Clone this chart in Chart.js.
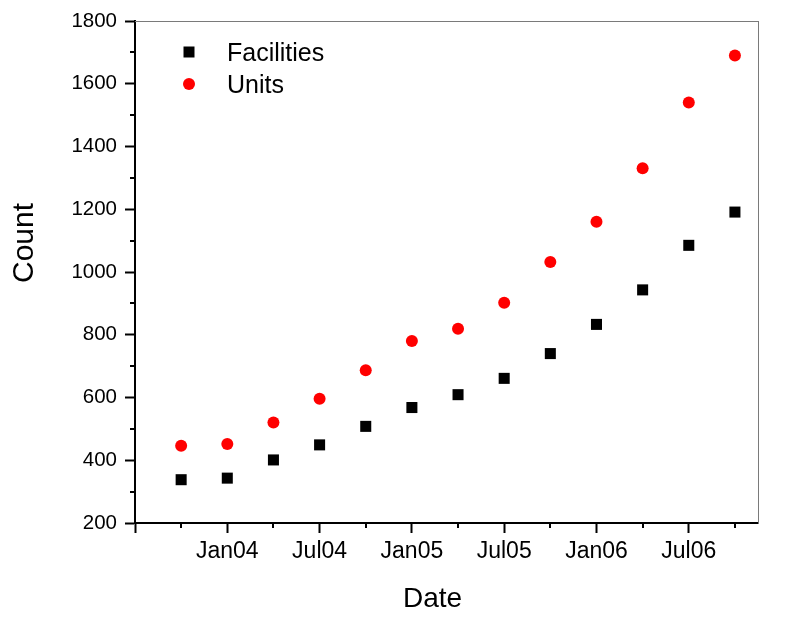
<!DOCTYPE html>
<html>
<head>
<meta charset="utf-8">
<script src="https://cdn.jsdelivr.net/npm/chart.js@4/dist/chart.umd.min.js"></script>
<style>
  html, body { margin: 0; padding: 0; background: #ffffff; }
  #wrap { width: 793px; height: 623px; }
</style>
</head>
<body>
<div id="wrap"><canvas id="c" width="793" height="623"></canvas></div>
<script>
// ---- data ----
const quarters = ['Oct03','Jan04','Apr04','Jul04','Oct04','Jan05','Apr05','Jul05','Oct05','Jan06','Apr06','Jul06','Oct06'];
const quarterPos = [1,2,3,4,5,6,7,8,9,10,11,12,13]; // quarters after Jul03
const facilities = [338, 343, 401, 449, 508, 568, 609, 661, 740, 833, 943, 1085, 1191];
const units = [446, 452, 520, 596, 687, 780, 819, 902, 1032, 1160, 1331, 1540, 1690];
const xTickPos = [0, 2, 4, 6, 8, 10, 12];
const xTickLabels = ['', 'Jan04', 'Jul04', 'Jan05', 'Jul05', 'Jan06', 'Jul06'];
const xMinorPos = [1, 3, 5, 7, 9, 11, 13];
const yMinorVals = [300, 500, 700, 900, 1100, 1300, 1500, 1700];
const seriesNames = ['Facilities', 'Units'];
const xTitle = 'Date';
const yTitle = 'Count';

const FONT = "'Liberation Sans', Arial, sans-serif";

const minorTicks = {
  id: 'minorTicks',
  afterDraw(chart) {
    const ctx = chart.ctx, xs = chart.scales.x, ys = chart.scales.y;
    ctx.save();
    ctx.strokeStyle = '#000';
    ctx.lineWidth = 2;
    ctx.beginPath();
    xMinorPos.forEach(v => {
      const px = Math.round(xs.getPixelForValue(v));
      ctx.moveTo(px, xs.top);
      ctx.lineTo(px, xs.top + 5);
    });
    yMinorVals.forEach(v => {
      const py = Math.round(ys.getPixelForValue(v));
      ctx.moveTo(ys.right - 5, py);
      ctx.lineTo(ys.right, py);
    });
    ctx.stroke();
    ctx.restore();
  }
};

const legendAndTitles = {
  id: 'legendAndTitles',
  afterDraw(chart) {
    const ctx = chart.ctx, a = chart.chartArea;
    ctx.save();
    // legend
    const lx = a.left + 54;
    const rows = [a.top + 31, a.top + 63];
    chart.data.datasets.forEach((ds, i) => {
      const cy = rows[i];
      ctx.fillStyle = ds.backgroundColor;
      ctx.beginPath();
      if (ds.pointStyle === 'rect') {
        ctx.rect(lx - 5.5, cy - 5.5, 11, 11);
      } else {
        ctx.arc(lx, cy, 6, 0, Math.PI * 2);
      }
      ctx.fill();
      ctx.fillStyle = '#000';
      ctx.font = '25px ' + FONT;
      ctx.textAlign = 'left';
      ctx.textBaseline = 'alphabetic';
      ctx.fillText(ds.label, lx + 38, cy + 8.5);
    });
    // axis titles
    ctx.fillStyle = '#000';
    ctx.font = '28px ' + FONT;
    ctx.textAlign = 'center';
    ctx.textBaseline = 'alphabetic';
    ctx.fillText(xTitle, (a.left + a.right) / 2 - 14, 607);
    ctx.save();
    ctx.translate(33, (a.top + a.bottom) / 2 - 29);
    ctx.rotate(-Math.PI / 2);
    ctx.font = '30px ' + FONT;
    ctx.fillText(yTitle, 0, 0);
    ctx.restore();
    ctx.restore();
  }
};

const toPoints = vals => vals.map((v, i) => ({ x: quarterPos[i], y: v }));

new Chart(document.getElementById('c'), {
  type: 'scatter',
  data: {
    datasets: [
      {
        label: seriesNames[0],
        data: toPoints(facilities),
        pointStyle: 'rect',
        pointRadius: 7.8,
        pointHoverRadius: 7.8,
        backgroundColor: '#000000',
        borderColor: '#000000',
        borderWidth: 0
      },
      {
        label: seriesNames[1],
        data: toPoints(units),
        pointStyle: 'circle',
        pointRadius: 6,
        pointHoverRadius: 6,
        backgroundColor: '#ff0000',
        borderColor: '#ff0000',
        borderWidth: 0
      }
    ]
  },
  options: {
    responsive: false,
    devicePixelRatio: 1,
    animation: false,
    layout: { padding: 0 },
    plugins: {
      legend: { display: false },
      tooltip: { enabled: false }
    },
    scales: {
      x: {
        type: 'linear',
        position: 'bottom',
        min: 0,
        max: 13.5,
        afterBuildTicks: s => { s.ticks = xTickPos.map(v => ({ value: v })); },
        afterFit: s => { s.height = 100; },
        ticks: {
          autoSkip: false,
          maxRotation: 0,
          minRotation: 0,
          padding: 5,
          color: '#000',
          font: { family: FONT, size: 23 },
          callback: v => { const i = xTickPos.indexOf(v); return i >= 0 ? xTickLabels[i] : ''; }
        },
        grid: { drawOnChartArea: false, drawTicks: true, tickLength: 10, tickWidth: 2, tickColor: '#000' },
        border: { color: '#000', width: 2 }
      },
      y: {
        type: 'linear',
        position: 'left',
        min: 200,
        max: 1800,
        afterFit: s => { s.width = 135; },
        ticks: {
          stepSize: 200,
          padding: 8,
          color: '#000',
          font: { family: FONT, size: 20.5 },
          callback: v => String(v)
        },
        grid: { drawOnChartArea: false, drawTicks: true, tickLength: 10, tickWidth: 2, tickColor: '#000' },
        border: { color: '#000', width: 2 }
      },
      x2: {
        type: 'linear',
        position: 'top',
        min: 0, max: 1,
        afterFit: s => { s.height = 21; },
        ticks: { display: false },
        grid: { drawOnChartArea: false, drawTicks: false },
        border: { color: '#7a7a7a', width: 1 }
      },
      y2: {
        type: 'linear',
        position: 'right',
        min: 0, max: 1,
        afterFit: s => { s.width = 35; },
        ticks: { display: false },
        grid: { drawOnChartArea: false, drawTicks: false },
        border: { color: '#7a7a7a', width: 1 }
      }
    }
  },
  plugins: [minorTicks, legendAndTitles]
});
</script>
</body>
</html>
